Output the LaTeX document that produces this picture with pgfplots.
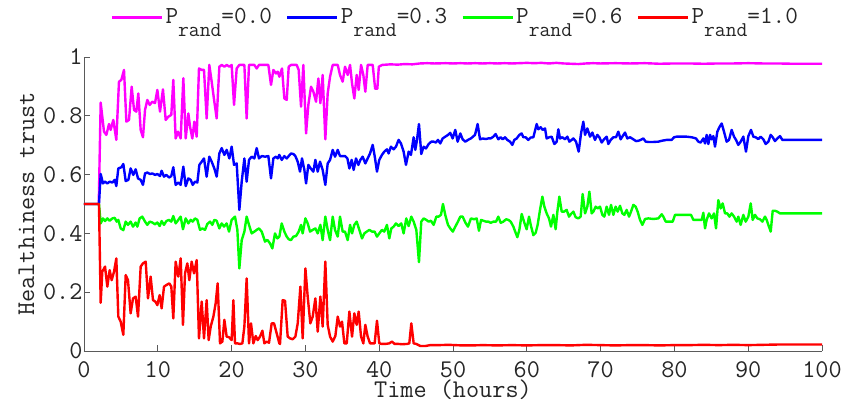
\documentclass[border=0pt]{standalone}
\usepackage{pgfplots}
\pgfplotsset{compat=1.18}
\usepackage{fontspec}
\renewcommand{\familydefault}{\ttdefault}
\definecolor{txt}{RGB}{38,38,38}
\definecolor{axc}{RGB}{90,90,90}
\newcommand{\fnt}{\ttfamily\fontsize{24.5}{28}\selectfont}
\newcommand{\tfnt}{\ttfamily\fontsize{25.5}{28}\selectfont}
\newcommand{\lfnt}{\ttfamily\fontsize{25.5}{28}\selectfont}
\newcommand{\Prnd}[1]{P\raisebox{-0.52em}{\fontsize{21}{21}\selectfont rand}=#1}
\begin{document}
\begin{tikzpicture}
\begin{axis}[
  name=ax,
  scale only axis,
  width=738pt, height=294pt,
  xmin=0, xmax=100, ymin=0, ymax=1,
  axis lines*=left,
  axis line style={draw=axc, line width=0.8pt},
  tick style={draw=axc, line width=0.8pt},
  tick align=inside,
  major tick length=6pt,
  xtick={0,10,...,100},
  ytick={0,0.2,0.4,0.6,0.8,1},
  /pgf/number format/assume math mode=true,
  ticklabel style={font=\tfnt, text=txt},
  xticklabel style={inner sep=0pt, yshift=-10pt},
  yticklabel style={xshift=2pt},
  xlabel={Time (hours)},
  ylabel={Healthiness trust},
  label style={font=\lfnt, text=txt},
  xlabel style={inner sep=0pt, yshift=-2pt},
  ylabel style={yshift=2pt},
  legend style={at={(0.503,1.136)}, anchor=center, draw=none, fill=none,
    legend columns=4, font=\fnt, text=txt,
    /tikz/every even column/.append style={column sep=12pt},
    inner sep=0pt},
  legend image code/.code={\draw[#1, line width=3pt] (0pt,0pt) -- (50pt,0pt);},
  every axis plot/.append style={line width=2.4pt, line join=round},
]
\addplot[color={rgb,255:red,255;green,0;blue,255}] coordinates {
(0,0.5) (2.0,0.5) (2.26,0.845) (2.71,0.746) (3.03,0.735) (3.39,0.772) (3.61,0.752) (3.97,0.786) (4.38,0.718) (4.74,0.916) (5.06,0.922) (5.42,0.956) (5.74,0.78) (6.1,0.786) (6.46,0.899) (6.78,0.82) (7.09,0.814) (7.36,0.876) (7.68,0.752) (7.99,0.727) (8.27,0.82) (8.58,0.854) (8.9,0.837) (9.26,0.848) (9.62,0.843) (9.94,0.888) (10.3,0.814) (10.7,0.89) (11.07,0.786) (11.43,0.797) (11.83,0.803) (12.1,0.922) (12.42,0.723) (12.74,0.746) (13.1,0.723) (13.46,0.928) (13.78,0.723) (14.14,0.808) (14.37,0.763) (14.68,0.723) (14.95,0.78) (15.27,0.729) (15.58,0.961) (15.95,0.956) (16.26,0.956) (16.62,0.791) (16.98,0.973) (17.3,0.916) (17.66,0.848) (17.98,0.791) (18.34,0.967) (18.66,0.973) (19.02,0.967) (19.33,0.973) (19.7,0.967) (20.01,0.973) (20.33,0.837) (20.69,0.961) (21.05,0.973) (21.37,0.973) (21.73,0.973) (22.04,0.791) (22.36,0.973) (22.72,0.973) (23.08,0.973) (23.4,0.961) (23.71,0.973) (24.08,0.973) (24.53,0.973) (24.98,0.973) (25.34,0.905) (25.66,0.956) (26.02,0.944) (26.25,0.95) (26.47,0.933) (26.83,0.961) (27.15,0.859) (27.47,0.854) (27.74,0.967) (28.05,0.973) (28.5,0.973) (28.82,0.973) (29.09,0.956) (29.41,0.831) (29.72,0.973) (30.09,0.74) (30.4,0.837) (30.76,0.899) (31.08,0.882) (31.44,0.848) (31.76,0.927) (32.03,0.843) (32.34,0.939) (32.7,0.72) (33.02,0.876) (33.34,0.933) (33.7,0.973) (34.06,0.973) (34.38,0.973) (34.69,0.939) (35.05,0.916) (35.37,0.967) (35.73,0.939) (36.05,0.973) (36.32,0.91) (36.63,0.859) (36.95,0.939) (37.22,0.888) (37.54,0.973) (37.85,0.939) (38.12,0.882) (38.44,0.973) (38.76,0.973) (39.12,0.973) (39.45,0.892) (39.75,0.892) (39.95,0.967) (40.4,0.973) (41.5,0.975) (42.5,0.974) (43.5,0.976) (44.5,0.975) (45.5,0.978) (46.5,0.979) (47.5,0.978) (49,0.979) (50,0.978) (51,0.979) (52,0.978) (53,0.979) (54,0.978) (55,0.979) (56,0.978) (57,0.979) (58,0.978) (59,0.979) (60,0.98) (61,0.979) (62,0.98) (63,0.978) (64,0.98) (65,0.978) (66,0.977) (67,0.976) (68,0.978) (69,0.979) (70,0.978) (72,0.979) (74,0.978) (76,0.979) (78,0.977) (80,0.978) (82,0.978) (84,0.977) (86,0.978) (88,0.978) (90,0.979) (92,0.978) (94,0.978) (96,0.977) (98,0.977) (100,0.977)
};
\addlegendentry{\Prnd{0.0}}
\addplot[color={rgb,255:red,0;green,0;blue,255}] coordinates {
(0,0.5) (2.03,0.5) (2.26,0.602) (2.57,0.57) (2.85,0.576) (3.16,0.57) (3.48,0.576) (3.84,0.573) (4.16,0.582) (4.38,0.561) (4.65,0.621) (5.06,0.625) (5.33,0.636) (5.65,0.578) (6.01,0.582) (6.32,0.621) (6.68,0.599) (7.0,0.618) (7.32,0.587) (7.68,0.582) (7.99,0.565) (8.27,0.604) (8.58,0.607) (8.94,0.602) (9.26,0.604) (9.62,0.599) (9.94,0.602) (10.3,0.595) (10.52,0.613) (10.84,0.593) (11.16,0.599) (11.52,0.59) (11.83,0.595) (12.1,0.625) (12.42,0.565) (12.78,0.573) (13.1,0.565) (13.46,0.627) (13.78,0.561) (14.14,0.587) (14.46,0.582) (14.73,0.565) (15.04,0.576) (15.36,0.573) (15.63,0.633) (15.95,0.644) (16.26,0.655) (16.62,0.593) (16.98,0.661) (17.3,0.644) (17.66,0.621) (17.98,0.593) (18.34,0.672) (18.66,0.69) (19.02,0.667) (19.33,0.684) (19.7,0.655) (20.01,0.695) (20.33,0.633) (20.69,0.638) (21.05,0.48) (21.37,0.576) (21.73,0.655) (22.04,0.576) (22.36,0.65) (22.72,0.661) (23.08,0.655) (23.4,0.69) (23.71,0.655) (24.08,0.663) (24.53,0.661) (24.98,0.663) (25.34,0.587) (25.66,0.655) (26.02,0.661) (26.25,0.655) (26.47,0.667) (26.79,0.65) (27.15,0.663) (27.47,0.655) (27.74,0.663) (28.05,0.672) (28.37,0.67) (28.64,0.663) (28.96,0.644) (29.27,0.61) (29.54,0.655) (29.86,0.616) (30.09,0.57) (30.4,0.633) (30.72,0.621) (31.08,0.61) (31.35,0.65) (31.67,0.61) (31.98,0.644) (32.34,0.616) (32.7,0.565) (33.02,0.638) (33.34,0.65) (33.7,0.684) (34.01,0.661) (34.38,0.684) (34.69,0.663) (35.05,0.663) (35.37,0.663) (35.69,0.655) (35.96,0.621) (36.27,0.65) (36.54,0.616) (36.86,0.655) (37.18,0.633) (37.45,0.65) (37.76,0.661) (38.12,0.638) (38.44,0.655) (38.76,0.672) (39.12,0.701) (39.4,0.661) (39.7,0.61) (40.01,0.65) (40.37,0.667) (40.69,0.678) (41.05,0.686) (41.28,0.672) (41.59,0.695) (41.96,0.686) (42.27,0.695) (42.63,0.718) (42.95,0.706) (43.31,0.678) (43.63,0.633) (43.99,0.678) (44.3,0.667) (44.67,0.727) (44.89,0.684) (45.12,0.718) (45.39,0.772) (45.7,0.67) (46.02,0.695) (46.34,0.689) (46.7,0.704) (47.06,0.712) (47.38,0.712) (47.69,0.709) (47.96,0.718) (48.28,0.706) (48.6,0.723) (48.96,0.729) (49.32,0.735) (49.63,0.742) (49.95,0.723) (50.31,0.752) (50.63,0.712) (50.99,0.74) (51.31,0.72) (51.67,0.712) (52.03,0.718) (52.43,0.723) (52.98,0.735) (53.34,0.772) (53.66,0.72) (54.02,0.723) (54.43,0.721) (54.79,0.723) (55.11,0.723) (55.47,0.729) (55.78,0.738) (56.14,0.72) (56.46,0.727) (56.73,0.72) (57.05,0.727) (57.36,0.718) (57.73,0.712) (58.04,0.701) (58.31,0.718) (58.63,0.723) (58.99,0.735) (59.3,0.74) (59.53,0.727) (59.85,0.727) (60.21,0.718) (60.52,0.726) (60.89,0.727) (61.34,0.772) (61.56,0.754) (61.88,0.761) (62.15,0.752) (62.47,0.757) (62.69,0.723) (63.05,0.727) (63.37,0.729) (63.73,0.704) (64.05,0.712) (64.27,0.754) (64.5,0.723) (64.82,0.727) (65.18,0.72) (65.49,0.729) (65.77,0.712) (66.08,0.718) (66.31,0.723) (66.67,0.712) (67.03,0.678) (67.35,0.74) (67.66,0.78) (67.89,0.735) (68.2,0.757) (68.57,0.729) (68.88,0.743) (69.24,0.718) (69.56,0.735) (69.83,0.727) (70.15,0.709) (70.46,0.72) (70.82,0.729) (71.05,0.704) (71.37,0.718) (71.73,0.727) (72.09,0.727) (72.4,0.746) (72.72,0.72) (72.99,0.731) (73.31,0.743) (73.62,0.723) (73.99,0.727) (74.44,0.72) (74.8,0.714) (75.11,0.715) (75.43,0.718) (75.79,0.723) (76.11,0.712) (76.47,0.711) (77.15,0.711) (77.82,0.712) (78.28,0.715) (78.95,0.718) (79.63,0.718) (79.95,0.727) (80.31,0.729) (80.99,0.729) (81.66,0.729) (82.34,0.727) (82.93,0.723) (83.24,0.712) (83.56,0.709) (83.92,0.723) (84.15,0.706) (84.37,0.735) (84.6,0.704) (84.83,0.735) (85.05,0.72) (85.28,0.731) (85.5,0.695) (85.82,0.746) (86.09,0.761) (86.41,0.774) (86.72,0.746) (87.08,0.712) (87.4,0.718) (87.76,0.752) (88.08,0.729) (88.35,0.718) (88.66,0.701) (88.98,0.712) (89.34,0.729) (89.7,0.678) (90.02,0.731) (90.38,0.752) (90.7,0.729) (91.01,0.727) (91.37,0.721) (91.69,0.729) (92.05,0.72) (92.37,0.704) (92.73,0.712) (93.05,0.735) (93.32,0.727) (93.63,0.714) (93.95,0.723) (94.31,0.731) (94.63,0.718) (100,0.718)
};
\addlegendentry{\Prnd{0.3}}
\addplot[color={rgb,255:red,0;green,255;blue,0}] coordinates {
(0,0.5) (2.03,0.5) (2.26,0.434) (2.57,0.451) (2.85,0.442) (3.16,0.451) (3.48,0.443) (3.84,0.451) (4.16,0.453) (4.43,0.44) (4.65,0.446) (4.97,0.417) (5.33,0.411) (5.65,0.44) (5.96,0.429) (6.32,0.44) (6.64,0.423) (7.0,0.437) (7.23,0.423) (7.54,0.451) (7.9,0.457) (8.27,0.44) (8.58,0.429) (8.9,0.44) (9.26,0.437) (9.62,0.431) (9.94,0.437) (10.25,0.425) (10.52,0.442) (10.84,0.429) (11.16,0.442) (11.52,0.446) (11.83,0.44) (12.1,0.459) (12.42,0.434) (12.78,0.446) (13.1,0.457) (13.41,0.414) (13.78,0.451) (14.14,0.434) (14.46,0.446) (14.73,0.44) (15.04,0.451) (15.36,0.446) (15.72,0.412) (16.04,0.417) (16.4,0.412) (16.71,0.432) (17.08,0.44) (17.39,0.429) (17.66,0.446) (17.98,0.443) (18.34,0.417) (18.66,0.434) (18.97,0.423) (19.33,0.434) (19.65,0.406) (20.01,0.446) (20.46,0.457) (20.78,0.412) (21.05,0.281) (21.37,0.377) (21.73,0.406) (22.04,0.457) (22.36,0.429) (22.72,0.4) (23.08,0.406) (23.4,0.412) (23.71,0.417) (24.08,0.406) (24.53,0.372) (24.84,0.378) (25.21,0.366) (25.52,0.349) (25.88,0.4) (26.2,0.383) (26.47,0.389) (26.79,0.434) (27.15,0.406) (27.47,0.389) (27.74,0.38) (28.05,0.377) (28.37,0.389) (28.73,0.391) (29.09,0.406) (29.41,0.429) (29.63,0.4) (30.0,0.451) (30.31,0.434) (30.63,0.406) (30.99,0.412) (31.35,0.417) (31.67,0.4) (32.03,0.429) (32.34,0.377) (32.7,0.457) (33.02,0.412) (33.34,0.377) (33.7,0.457) (34.01,0.412) (34.38,0.389) (34.69,0.457) (35.05,0.406) (35.37,0.406) (35.73,0.377) (36.05,0.429) (36.32,0.4) (36.63,0.429) (36.95,0.44) (37.31,0.412) (37.67,0.383) (37.99,0.4) (38.31,0.406) (38.67,0.412) (39.03,0.406) (39.38,0.406) (39.7,0.389) (40.01,0.4) (40.37,0.412) (40.69,0.406) (41.05,0.429) (41.37,0.383) (41.64,0.417) (41.96,0.423) (42.27,0.434) (42.63,0.425) (42.99,0.434) (43.31,0.4) (43.67,0.451) (43.99,0.425) (44.35,0.457) (44.67,0.44) (45.03,0.412) (45.39,0.302) (45.7,0.44) (46.02,0.451) (46.38,0.446) (46.7,0.44) (47.01,0.443) (47.38,0.429) (47.74,0.457) (48.05,0.457) (48.37,0.463) (48.64,0.5) (48.96,0.462) (49.32,0.429) (49.63,0.417) (49.98,0.406) (50.31,0.423) (50.67,0.44) (50.99,0.457) (51.31,0.457) (51.67,0.437) (52.03,0.423) (52.43,0.451) (52.85,0.448) (53.21,0.451) (53.52,0.409) (53.8,0.446) (54.11,0.443) (54.47,0.44) (54.79,0.44) (55.11,0.436) (55.47,0.44) (55.83,0.44) (56.14,0.457) (56.46,0.436) (56.82,0.44) (57.18,0.448) (57.5,0.446) (57.82,0.44) (58.18,0.423) (58.49,0.402) (58.72,0.387) (58.99,0.412) (59.31,0.466) (59.62,0.44) (59.98,0.414) (60.3,0.457) (60.57,0.425) (60.89,0.394) (61.2,0.402) (61.47,0.429) (61.79,0.48) (62.11,0.525) (62.38,0.491) (62.69,0.468) (63.01,0.451) (63.28,0.423) (63.6,0.463) (63.91,0.414) (64.14,0.474) (64.41,0.525) (64.73,0.474) (65.04,0.474) (65.4,0.48) (65.72,0.457) (65.99,0.466) (66.31,0.474) (66.62,0.455) (66.98,0.451) (67.3,0.457) (67.57,0.534) (67.89,0.468) (68.2,0.491) (68.48,0.542) (68.79,0.468) (69.02,0.474) (69.33,0.491) (69.6,0.485) (69.92,0.491) (70.24,0.463) (70.51,0.457) (70.82,0.491) (71.14,0.463) (71.41,0.497) (71.73,0.463) (72.04,0.491) (72.31,0.474) (72.63,0.494) (72.95,0.468) (73.22,0.463) (73.53,0.48) (73.85,0.457) (74.12,0.474) (74.44,0.497) (74.75,0.491) (75.02,0.474) (75.34,0.446) (75.66,0.429) (76.02,0.449) (76.47,0.451) (77.15,0.449) (77.82,0.451) (78.28,0.465) (78.5,0.457) (78.82,0.44) (79.41,0.44) (79.77,0.44) (80.08,0.463) (80.76,0.463) (81.66,0.463) (82.25,0.463) (82.57,0.446) (83.24,0.446) (83.7,0.446) (83.92,0.47) (84.15,0.417) (84.37,0.446) (84.69,0.468) (85.05,0.451) (85.37,0.468) (85.64,0.417) (85.95,0.513) (86.27,0.485) (86.54,0.502) (86.86,0.468) (87.17,0.468) (87.45,0.457) (87.76,0.468) (88.08,0.457) (88.44,0.44) (88.66,0.457) (88.98,0.429) (89.34,0.463) (89.66,0.44) (90.02,0.457) (90.34,0.502) (90.61,0.446) (90.92,0.463) (91.24,0.451) (91.6,0.448) (91.92,0.44) (92.28,0.457) (92.5,0.446) (92.73,0.429) (93.05,0.406) (93.32,0.477) (93.63,0.477) (93.95,0.474) (94.31,0.468) (94.63,0.468) (100,0.468)
};
\addlegendentry{\Prnd{0.6}}
\addplot[color={rgb,255:red,255;green,0;blue,0}] coordinates {
(0,0.5) (2.03,0.5) (2.26,0.164) (2.48,0.27) (2.85,0.287) (3.16,0.219) (3.48,0.275) (3.75,0.241) (4.07,0.27) (4.38,0.315) (4.65,0.117) (4.97,0.1) (5.33,0.055) (5.65,0.258) (5.96,0.241) (6.32,0.128) (6.64,0.179) (7.0,0.185) (7.32,0.117) (7.68,0.287) (7.99,0.298) (8.36,0.304) (8.67,0.179) (9.03,0.253) (9.35,0.173) (9.67,0.168) (9.94,0.156) (10.25,0.19) (10.52,0.145) (10.84,0.219) (11.2,0.225) (11.56,0.23) (11.83,0.219) (12.1,0.111) (12.42,0.304) (12.78,0.253) (13.1,0.315) (13.41,0.089) (13.69,0.264) (14.0,0.298) (14.27,0.241) (14.59,0.304) (14.91,0.264) (15.27,0.309) (15.58,0.043) (15.95,0.168) (16.26,0.043) (16.62,0.173) (16.89,0.037) (17.17,0.083) (17.53,0.117) (17.84,0.162) (18.11,0.23) (18.43,0.026) (18.75,0.032) (19.02,0.106) (19.33,0.049) (19.65,0.047) (20.01,0.037) (20.24,0.173) (20.46,0.026) (20.78,0.026) (21.14,0.024) (21.46,0.026) (21.73,0.083) (22.04,0.247) (22.36,0.026) (22.63,0.094) (22.95,0.026) (23.27,0.051) (23.53,0.037) (23.85,0.049) (24.17,0.069) (24.44,0.026) (24.75,0.032) (25.07,0.028) (25.43,0.094) (25.75,0.094) (26.11,0.06) (26.47,0.026) (26.56,0.024) (26.92,0.173) (27.24,0.171) (27.6,0.049) (27.92,0.043) (28.28,0.04) (28.64,0.049) (28.96,0.094) (29.32,0.219) (29.63,0.043) (30.0,0.281) (30.31,0.185) (30.67,0.094) (30.99,0.117) (31.35,0.179) (31.67,0.066) (32.03,0.185) (32.34,0.083) (32.7,0.304) (33.02,0.089) (33.34,0.049) (33.7,0.032) (34.06,0.051) (34.38,0.117) (34.69,0.083) (34.96,0.1) (35.28,0.026) (35.6,0.026) (35.96,0.134) (36.32,0.049) (36.63,0.128) (36.95,0.089) (37.22,0.134) (37.54,0.049) (37.85,0.026) (38.12,0.089) (38.44,0.049) (38.76,0.026) (39.12,0.026) (39.38,0.026) (39.7,0.103) (40.01,0.026) (40.37,0.024) (40.83,0.024) (41.37,0.026) (41.73,0.032) (42.09,0.024) (42.63,0.024) (43.09,0.023) (43.76,0.024) (44.08,0.026) (44.35,0.094) (44.67,0.026) (45.03,0.024) (45.57,0.017) (46.25,0.017) (46.92,0.02) (48.05,0.02) (49.41,0.021) (51.22,0.019) (52.57,0.019) (54,0.02) (56,0.019) (58,0.02) (60,0.019) (62,0.02) (64,0.02) (66,0.019) (68,0.021) (70,0.02) (72,0.019) (74,0.02) (76,0.02) (78,0.019) (80,0.02) (82,0.02) (84,0.021) (86,0.02) (88,0.021) (90,0.02) (92,0.021) (94,0.022) (96,0.022) (98,0.022) (100,0.022)
};
\addlegendentry{\Prnd{1.0}}
\end{axis}
\pgfresetboundingbox
\path ([xshift=-84pt,yshift=-53pt]ax.south west) rectangle ([xshift=22pt,yshift=57pt]ax.north east);
\end{tikzpicture}
\end{document}
